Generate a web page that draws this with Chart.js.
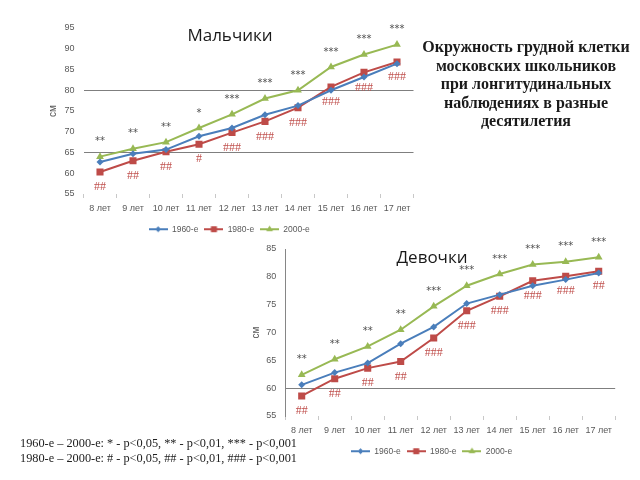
<!DOCTYPE html>
<html>
<head>
<meta charset="utf-8">
<script src="https://cdn.jsdelivr.net/npm/chart.js@4.4.1/dist/chart.umd.min.js"></script>
<style>
  body { margin: 0; background: #fff; }
  #wrap { position: relative; width: 640px; height: 480px; overflow: hidden; background: #fff; }
  canvas { position: absolute; }
  #boys { left: 0; top: 0; }
  #girls { left: 245px; top: 230px; }
  .ttl { position: absolute; font-family: "Open Sans", sans-serif; font-size: 17px; color: #1a1a1a; text-align: center; width: 120px; line-height: 20px; }
  #mainTitle { position: absolute; left: 414px; top: 38px; width: 224px; text-align: center;
    font-family: "Liberation Serif", serif; font-weight: bold; font-size: 16px; line-height: 18.5px; color: #1a1a1a; }
  #note { position: absolute; left: 20px; top: 436px; font-family: "Liberation Serif", serif; font-size: 12.3px; line-height: 14.5px; color: #222; white-space: nowrap; }
</style>
</head>
<body>
<div id="wrap">
  <canvas id="boys" width="430" height="245"></canvas>
  <canvas id="girls" width="395" height="250"></canvas>
  <div class="ttl" style="left:170px; top:25px;">Мальчики</div>
  <div class="ttl" style="left:372px; top:247px;">Девочки</div>
  <div id="mainTitle">Окружность грудной клетки<br>московских школьников<br>при лонгитудинальных<br>наблюдениях в разные<br>десятилетия</div>
  <div id="note">1960-е – 2000-е: * - p&lt;0,05, ** - p&lt;0,01, *** - p&lt;0,001<br>1980-е – 2000-е: # - p&lt;0,05, ## - p&lt;0,01, ### - p&lt;0,001</div>
</div>
<script>
// данные
const categories = ['8 лет', '9 лет', '10 лет', '11 лет', '12 лет', '13 лет', '14 лет', '15 лет', '16 лет', '17 лет'];
const seriesNames = ['1960-е', '1980-е', '2000-е'];

const boys1960 = [62.7, 64.7, 65.7, 68.9, 70.9, 74.1, 76.3, 80.0, 83.2, 86.4];
const boys1980 = [60.3, 63.0, 65.2, 67.0, 69.8, 72.5, 75.8, 80.8, 84.3, 86.8];
const boys2000 = [64.0, 65.9, 67.5, 70.9, 74.2, 78.0, 80.0, 85.6, 88.6, 91.0];
const boysStars = ['**', '**', '**', '*', '***', '***', '***', '***', '***', '***'];
const boysHashes = ['##', '##', '##', '#', '###', '###', '###', '###', '###', '###'];

const girls1960 = [60.6, 62.8, 64.5, 68.0, 71.0, 75.2, 76.8, 78.4, 79.5, 80.7];
const girls1980 = [58.6, 61.7, 63.6, 64.8, 69.0, 73.9, 76.5, 79.3, 80.1, 81.0];
const girls2000 = [62.4, 65.2, 67.5, 70.5, 74.7, 78.4, 80.5, 82.2, 82.7, 83.5];
const girlsStars = ['**', '**', '**', '**', '***', '***', '***', '***', '***', '***'];
const girlsHashes = ['##', '##', '##', '##', '###', '###', '###', '###', '###', '##'];

const colors = ['#4a7ebb', '#be4b48', '#98b954'];
const markers = [
    { style: 'rectRot', r: 3.5 },
    { style: 'rect', r: 5 },
    { style: 'triangle', r: 4.5 }
];

Chart.defaults.font.family = '"Liberation Sans", sans-serif';
Chart.defaults.color = '#595959';

// значок легенды: линия с маркером
function legendIcon(i) {
    const c = document.createElement('canvas');
    c.width = 19; c.height = 10;
    const g = c.getContext('2d');
    g.strokeStyle = colors[i];
    g.lineWidth = 2;
    g.beginPath(); g.moveTo(0, 5); g.lineTo(19, 5); g.stroke();
    g.fillStyle = colors[i];
    Chart.helpers.drawPoint(g, { pointStyle: markers[i].style, radius: markers[i].r * 0.8, borderWidth: 0 }, 9.5, 5);
    g.fill();
    return c;
}
const icons = [0, 1, 2].map(legendIcon);

// звёздочки и решётки у точек
const marksPlugin = {
    id: 'marks',
    afterDatasetsDraw(chart, args, opts) {
        const ctx = chart.ctx;
        const green = chart.getDatasetMeta(2).data;
        const red = chart.getDatasetMeta(1).data;
        ctx.save();
        ctx.textAlign = 'center';
        ctx.textBaseline = 'middle';
        ctx.font = '10px "DejaVu Sans"';
        ctx.fillStyle = '#505050';
        opts.stars.forEach((s, i) => ctx.fillText(s, green[i].x, green[i].y - 15));
        ctx.font = '12px "Liberation Serif"';
        ctx.fillStyle = '#c0504d';
        opts.hashes.forEach((s, i) => ctx.fillText(s, red[i].x, red[i].y + 15));
        ctx.restore();
    }
};

function makeChart(id, sets, cfg) {
    const datasets = sets.map((d, i) => ({
        label: seriesNames[i],
        data: d,
        borderColor: colors[i],
        backgroundColor: colors[i],
        borderWidth: 2,
        pointStyle: markers[i].style,
        pointRadius: markers[i].r,
        pointBorderWidth: 0,
        tension: 0
    }));
    return new Chart(document.getElementById(id), {
        type: 'line',
        data: { labels: categories, datasets: datasets },
        plugins: [marksPlugin],
        options: {
            responsive: false,
            animation: false,
            layout: { padding: cfg.padding },
            scales: {
                x: {
                    offset: true,
                    afterFit: s => { s.height = 25; },
                    border: { display: false },
                    grid: { offset: true, drawOnChartArea: false, tickLength: 4, tickColor: '#c8c8c8' },
                    ticks: { font: { size: 9 }, padding: cfg.xPad, maxRotation: 0 }
                },
                y: {
                    min: cfg.min,
                    max: cfg.max,
                    afterFit: s => { s.width = cfg.yWidth; },
                    border: { display: cfg.yBorder, color: '#868686' },
                    grid: {
                        drawTicks: false,
                        color: c => cfg.lines.includes(c.tick.value) ? '#7f7f7f' : 'rgba(0,0,0,0)'
                    },
                    ticks: { stepSize: 5, font: { size: 9 }, padding: 9 },
                    title: { display: true, text: 'см', font: { size: 10 }, padding: 2 }
                }
            },
            plugins: {
                legend: {
                    position: 'bottom',
                    labels: {
                        usePointStyle: true,
                        pointStyleWidth: 19,
                        boxHeight: 9,
                        padding: 6,
                        font: { size: 8.5 },
                        color: '#595959',
                        generateLabels: chart => Chart.defaults.plugins.legend.labels.generateLabels(chart)
                            .map((it, i) => Object.assign(it, { pointStyle: icons[i] }))
                    }
                },
                tooltip: { enabled: false },
                marks: { stars: cfg.stars, hashes: cfg.hashes }
            }
        }
    });
}

makeChart('boys', [boys1960, boys1980, boys2000], {
    padding: { left: 45, right: 16.5, top: 28, bottom: 1.5 },
    yWidth: 38.5, min: 55, max: 95, lines: [65, 80], yBorder: false, xPad: 5,
    stars: boysStars, hashes: boysHashes
});

makeChart('girls', [girls1960, girls1980, girls2000], {
    padding: { left: 3, right: 24.8, top: 19, bottom: 14.5 },
    yWidth: 37.2, min: 55, max: 85, lines: [60], yBorder: true, xPad: 5,
    stars: girlsStars, hashes: girlsHashes
});
</script>
</body>
</html>
